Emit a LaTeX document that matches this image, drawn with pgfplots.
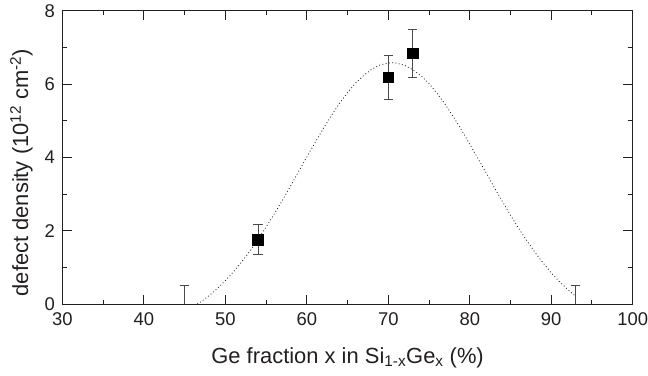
\documentclass[border=0pt]{standalone}
\usepackage{fontspec}
\setmainfont{Liberation Sans}
\usepackage{pgfplots}
\pgfplotsset{compat=1.18}
\definecolor{ink}{HTML}{231F20}
\definecolor{errc}{HTML}{4A4A4A}
\begin{document}
\begin{tikzpicture}
\begin{axis}[
 scale only axis, width=570.2bp, height=293.3bp,
 xmin=30, xmax=100, ymin=0, ymax=8,
 xtick={30,40,...,100}, minor xtick={35,45,...,95},
 ytick={0,2,...,8}, minor ytick={1,3,5,7},
 tick align=inside, major tick length=9.3bp, minor tick length=4.5bp,
 axis line style={line width=1bp, ink}, tick style={line width=1bp, ink},
 /pgf/number format/assume math mode=true,
 ticklabel style={font=\fontsize{18.5}{20}\selectfont, text=ink},
 xticklabel style={yshift=-4.8bp},
 yticklabel style={xshift=-4bp},
 xlabel={Ge fraction x in Si\textsubscript{1-x}Ge\textsubscript{x} (\%)},
 ylabel={defect density (10\textsuperscript{12} cm\textsuperscript{-2})},
 label style={font=\fontsize{22}{24}\selectfont, text=ink},
 xlabel style={at={(axis description cs:0.5,-0.2022)}, anchor=base, inner sep=0pt},
 ylabel style={at={(axis description cs:-0.05174,0.448)}, anchor=south, inner sep=0pt},
]
\addplot[ink, line width=0.8bp, dash pattern=on 0.9bp off 2.4bp] coordinates {
(46.55,0.00) (47,0.06) (48,0.23) (49,0.42) (50,0.64) (51,0.88) (52,1.15) (53,1.44)
(54,1.76) (55,2.10) (56,2.46) (57,2.83) (58,3.22) (59,3.62) (60,4.01) (61,4.40)
(62,4.78) (63,5.14) (64,5.47) (65,5.77) (66,6.03) (67,6.24) (68,6.41) (69,6.52)
(70,6.57) (70.45,6.58) (71,6.57) (72,6.51) (73,6.39) (74,6.23) (75,6.01) (76,5.74)
(77,5.44) (78,5.10) (79,4.74) (80,4.36) (81,3.97) (82,3.58) (83,3.18) (84,2.80)
(85,2.42) (86,2.06) (87,1.73) (88,1.41) (89,1.12) (90,0.85) (91,0.61) (92,0.40)
(93,0.21)};
\addplot[draw=none, mark=none,
 error bars/.cd, y dir=plus, y explicit,
 error bar style={draw=errc, line width=1bp},
 error mark options={rotate=90, mark size=4.7bp, line width=1bp, draw=errc}]
 coordinates {(45,0) +- (0,0.51) (93,0) +- (0,0.51)};
\addplot[only marks, mark=square*, mark size=5.3bp, mark options={fill=black, draw=black, line width=0.5bp},
 error bars/.cd, y dir=both, y explicit,
 error bar style={line width=1bp, color=errc},
 error mark options={rotate=90, mark size=4.7bp, line width=1bp, color=errc}]
 coordinates {(54,1.76) +- (0,0.40) (70,6.18) +- (0,0.59) (73,6.84) +- (0,0.65)};
\coordinate (bl) at (rel axis cs:0,0);
\coordinate (tr) at (rel axis cs:1,1);
\end{axis}
\pgfresetboundingbox
\path ([shift={(-62.5bp,-71bp)}]bl) rectangle ([shift={(15.3bp,10.7bp)}]tr);
\end{tikzpicture}
\end{document}
